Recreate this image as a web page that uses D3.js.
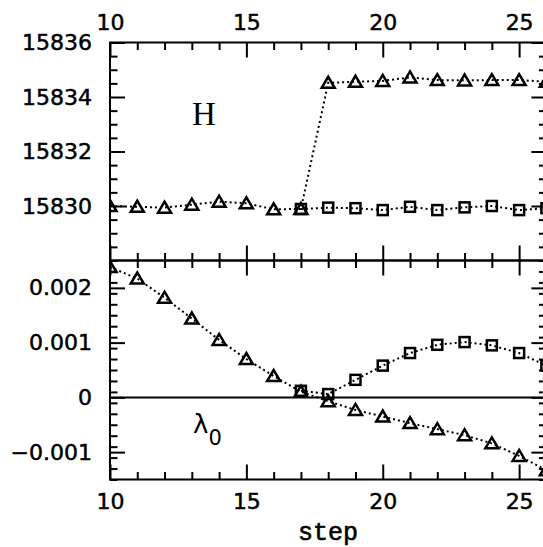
<!DOCTYPE html>
<html>
<head>
<meta charset="utf-8">
<script src="https://cdn.jsdelivr.net/npm/d3@7"></script>
<style>
  html, body { margin: 0; padding: 0; background: #fff; }
  svg { display: block; }
  .tick text { font-family: "DejaVu Sans", sans-serif; font-size: 22px; fill: #000; stroke: #000; stroke-width: 0.5px; }
</style>
</head>
<body>
<svg id="chart" width="543" height="547"></svg>
<script>
// Step numbers
const steps = [10, 11, 12, 13, 14, 15, 16, 17, 18, 19, 20, 21, 22, 23, 24, 25, 26];
const stepsLate = [17, 18, 19, 20, 21, 22, 23, 24, 25, 26];

// H: triangle run (jumps after step 17) and square run (from step 17)
const hTriangle = [15830.00, 15829.97, 15829.94, 15830.05, 15830.16, 15830.10, 15829.88, 15829.89,
                   15834.52, 15834.56, 15834.59, 15834.72, 15834.62, 15834.61, 15834.62, 15834.62, 15834.56];
const hSquare = [15829.89, 15829.94, 15829.92, 15829.85, 15829.97, 15829.85, 15829.95, 15830.00, 15829.85, 15829.92];

// lambda_0: triangle run and square run
const lamTriangle = [0.00238, 0.00217, 0.00182, 0.00144, 0.00105, 0.00070, 0.00039, 0.000105,
                     -0.00007, -0.00023, -0.00035, -0.00047, -0.00058, -0.00069, -0.00084, -0.00107, -0.00133];
const lamSquare = [0.00012, 0.00006, 0.00032, 0.00058, 0.00081, 0.00096, 0.00101, 0.00095, 0.00081, 0.00058];

// Axis ticks
const xMajor = [10, 15, 20, 25];
const xMinor = [11, 12, 13, 14, 16, 17, 18, 19, 21, 22, 23, 24, 26];
const hMajor = [15830, 15832, 15834, 15836];
const hMinor = d3.range(15828, 15836.01, 0.5).filter(v => v % 2 !== 0);
const lamMajor = [-0.001, 0, 0.001, 0.002];
const lamMinor = d3.range(-15, 26, 2).map(v => v / 10000).filter(v => Math.abs(v * 1000 - Math.round(v * 1000)) > 1e-9);

const svg = d3.select("#chart");

const left = 110, right = 546.4;
const topY = 42.5, midY = 260.5, botY = 479.5;
const majorLen = 15, minorLen = 7.5;

const x = d3.scaleLinear().domain([10, 26]).range([left, right]);
const yH = d3.scaleLinear().domain([15828, 15836]).range([midY, topY]);
const yL = d3.scaleLinear().domain([-0.0015, 0.0025]).range([botY, midY]);

const fmtLam = v => v === 0 ? "0" : (v < 0 ? "\u2212" : "") + Math.abs(v).toFixed(3);

// Draw a tick-only or labelled axis, with inward-pointing ticks
function axis(gen, transform, len, labels, fmt, pad) {
  const a = gen.tickSize(-len).tickSizeOuter(0).tickPadding(pad);
  if (!labels) a.tickFormat("");
  else if (fmt) a.tickFormat(fmt);
  else a.tickFormat(d3.format("d"));
  const g = svg.append("g").attr("transform", transform).call(a);
  g.select(".domain").remove();
  g.selectAll(".tick line").attr("stroke", "#000").attr("stroke-width", 2);
  return g;
}

// Top panel x axes
axis(d3.axisTop(x).tickValues(xMajor), `translate(0,${topY})`, majorLen, true, null, 12.5);
axis(d3.axisTop(x).tickValues(xMinor), `translate(0,${topY})`, minorLen, false);
axis(d3.axisBottom(x).tickValues(xMajor), `translate(0,${midY})`, majorLen, false);
axis(d3.axisBottom(x).tickValues(xMinor), `translate(0,${midY})`, minorLen, false);
// Bottom panel x axes
axis(d3.axisTop(x).tickValues(xMajor), `translate(0,${midY})`, majorLen, false);
axis(d3.axisTop(x).tickValues(xMinor), `translate(0,${midY})`, minorLen, false);
axis(d3.axisBottom(x).tickValues(xMajor), `translate(0,${botY})`, majorLen, true, null, 14);
axis(d3.axisBottom(x).tickValues(xMinor), `translate(0,${botY})`, minorLen, false);

// y axes
axis(d3.axisLeft(yH).tickValues(hMajor), `translate(${left},0)`, majorLen, true, null, 18);
axis(d3.axisLeft(yH).tickValues(hMinor), `translate(${left},0)`, minorLen, false);
axis(d3.axisRight(yH).tickValues(hMajor), `translate(${right},0)`, majorLen, false);
axis(d3.axisRight(yH).tickValues(hMinor), `translate(${right},0)`, minorLen, false);
axis(d3.axisLeft(yL).tickValues(lamMajor), `translate(${left},0)`, majorLen, true, fmtLam, 18);
axis(d3.axisLeft(yL).tickValues(lamMinor), `translate(${left},0)`, minorLen, false);
axis(d3.axisRight(yL).tickValues(lamMajor), `translate(${right},0)`, majorLen, false);
axis(d3.axisRight(yL).tickValues(lamMinor), `translate(${right},0)`, minorLen, false);

// Panel frames
svg.append("rect").attr("x", left).attr("y", topY).attr("width", right - left).attr("height", midY - topY)
  .attr("fill", "none").attr("stroke", "#000").attr("stroke-width", 2);
svg.append("rect").attr("x", left).attr("y", midY).attr("width", right - left).attr("height", botY - midY)
  .attr("fill", "none").attr("stroke", "#000").attr("stroke-width", 2);

// Clip regions
const defs = svg.append("defs");
defs.append("clipPath").attr("id", "clipTop").append("rect")
  .attr("x", left).attr("y", topY).attr("width", right - left).attr("height", midY - topY);
defs.append("clipPath").attr("id", "clipBot").append("rect")
  .attr("x", left).attr("y", midY).attr("width", right - left).attr("height", botY - midY);

// Zero line in the lambda panel
svg.append("line").attr("x1", left).attr("x2", right).attr("y1", yL(0)).attr("y2", yL(0))
  .attr("stroke", "#000").attr("stroke-width", 2);

function series(clip, xs, ys, yScale, shape) {
  const g = svg.append("g").attr("clip-path", `url(#${clip})`);
  const pts = xs.map((s, i) => [x(s), yScale(ys[i])]);
  g.append("path").attr("d", d3.line()(pts))
    .attr("fill", "none").attr("stroke", "#000").attr("stroke-width", 2)
    .attr("stroke-dasharray", "2,3");
  pts.forEach(([px, py]) => {
    if (shape === "tri") {
      g.append("path")
        .attr("d", `M${px - 6.5},${py + 5}L${px + 6.5},${py + 5}L${px},${py - 6}Z`)
        .attr("fill", "none").attr("stroke", "#000").attr("stroke-width", 2.5).attr("stroke-linejoin", "miter");
    } else {
      g.append("rect").attr("x", px - 5).attr("y", py - 5).attr("width", 10).attr("height", 10)
        .attr("fill", "none").attr("stroke", "#000").attr("stroke-width", 2.5);
    }
  });
}

series("clipTop", steps, hTriangle, yH, "tri");
series("clipTop", stepsLate, hSquare, yH, "sq");
series("clipBot", steps, lamTriangle, yL, "tri");
series("clipBot", stepsLate, lamSquare, yL, "sq");

// Panel labels
svg.append("text").attr("x", 204).attr("y", 124.5).attr("text-anchor", "middle")
  .style("font-family", "'Liberation Serif', serif").style("font-size", "33px").text("H");
const lam = svg.append("text").attr("x", 193).attr("y", 433)
  .style("font-family", "'DejaVu Sans', sans-serif").style("font-size", "26px");
lam.append("tspan").text("λ");
lam.append("tspan").attr("dy", 12).style("font-size", "21px").text("0");

// x axis title
svg.append("text").attr("x", 328).attr("y", 540).attr("text-anchor", "middle")
  .style("font-family", "'Liberation Mono', monospace").style("font-size", "25px")
  .style("stroke", "#000").style("stroke-width", "0.6px").text("step");
</script>
</body>
</html>
